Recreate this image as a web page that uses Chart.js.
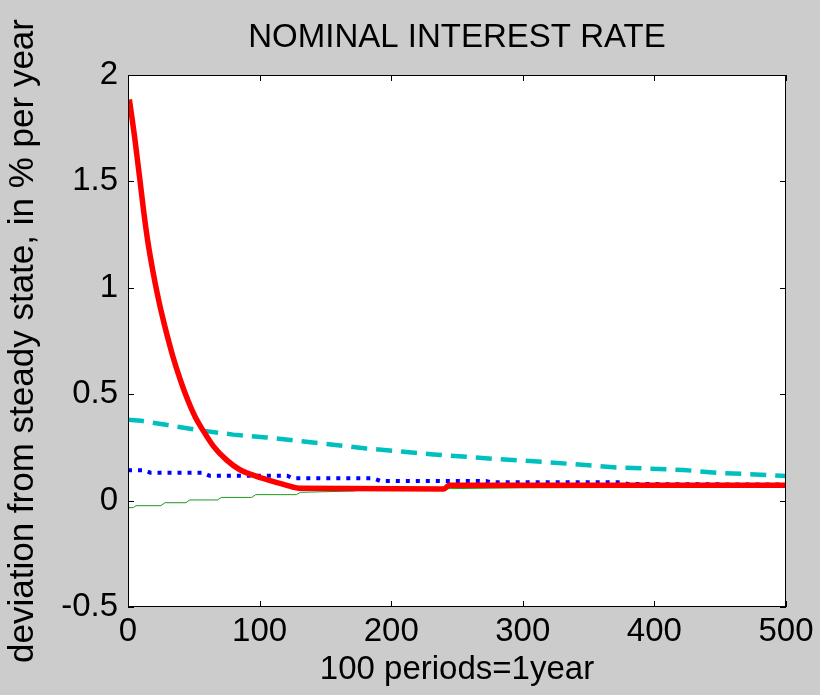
<!DOCTYPE html>
<html>
<head>
<meta charset="utf-8">
<script src="https://cdn.jsdelivr.net/npm/chart.js@4/dist/chart.umd.min.js"></script>
<style>
  html, body { margin: 0; padding: 0; background: #cccccc; }
  #wrap { width: 820px; height: 695px; }
</style>
</head>
<body>
<div id="wrap"><canvas id="grafico" width="820" height="695"></canvas></div>
<script>
// periods (x) and deviation values (y)
const redT   = [1, 3, 5, 7, 9, 12, 15, 19, 22, 25, 30, 34, 37.5, 44, 51, 57, 65, 75, 85, 95, 105, 120, 130, 240, 244, 500];
const redY   = [1.885, 1.80, 1.71, 1.61, 1.51, 1.355, 1.22, 1.075, 0.98, 0.895, 0.77, 0.68, 0.61, 0.495, 0.394, 0.33, 0.255, 0.19, 0.145, 0.12, 0.10, 0.073, 0.058, 0.055, 0.072, 0.072];

const cyanT  = [0, 10, 30, 55, 80, 105, 131, 166, 181, 232, 283, 320, 371, 422, 447, 486, 500];
const cyanY  = [0.38, 0.375, 0.355, 0.33, 0.31, 0.297, 0.28, 0.256, 0.245, 0.217, 0.194, 0.18, 0.156, 0.144, 0.131, 0.12, 0.116];

const blueT  = [0, 12, 17, 57, 62, 121, 125, 186, 192, 272, 276, 375, 380, 500];
const blueY  = [0.143, 0.143, 0.131, 0.131, 0.117, 0.117, 0.105, 0.105, 0.092, 0.092, 0.086, 0.086, 0.078, 0.075];

const greenT = [0, 4, 6, 25, 28, 44, 47, 68, 71, 94, 97, 128, 131, 171, 180, 300, 500];
const greenY = [-0.033, -0.033, -0.024, -0.024, -0.01, -0.01, 0.003, 0.003, 0.015, 0.015, 0.028, 0.028, 0.039, 0.045, 0.052, 0.06, 0.065];

const xTicks = [0, 100, 200, 300, 400, 500];
const yTicks = [-0.5, 0, 0.5, 1, 1.5, 2];
const titulo = 'NOMINAL INTEREST RATE';

const pontos = (t, v) => t.map((x, i) => ({ x, y: v[i] }));

const fonte = '"Liberation Sans", Arial, Helvetica, sans-serif';
Chart.defaults.font.family = fonte;
Chart.defaults.color = '#000';

// white plot area, black box, inward tick marks and title centred on the axes
const moldura = {
    id: 'moldura',
    beforeDraw(chart) {
        const { ctx, chartArea: a } = chart;
        ctx.save();
        ctx.fillStyle = '#ffffff';
        ctx.fillRect(a.left, a.top, a.right - a.left, a.bottom - a.top);
        ctx.restore();
    },
    afterDraw(chart) {
        const { ctx, chartArea: a, scales: { x, y } } = chart;
        ctx.save();
        ctx.strokeStyle = '#000';
        ctx.lineWidth = 1;
        ctx.strokeRect(a.left + 0.5, a.top + 0.5, a.right - a.left - 1, a.bottom - a.top - 1);
        ctx.beginPath();
        xTicks.forEach(v => {
            const px = Math.round(x.getPixelForValue(v)) + 0.5;
            ctx.moveTo(px, a.bottom); ctx.lineTo(px, a.bottom - 6);
            ctx.moveTo(px, a.top); ctx.lineTo(px, a.top + 6);
        });
        yTicks.forEach(v => {
            const py = Math.round(y.getPixelForValue(v)) + 0.5;
            ctx.moveTo(a.left, py); ctx.lineTo(a.left + 6, py);
            ctx.moveTo(a.right, py); ctx.lineTo(a.right - 6, py);
        });
        ctx.stroke();
        ctx.fillStyle = '#000';
        ctx.font = '33px ' + fonte;
        ctx.textAlign = 'center';
        ctx.textBaseline = 'middle';
        ctx.fillText(titulo, (a.left + a.right) / 2, 38);
        ctx.restore();
    }
};

new Chart(document.getElementById('grafico'), {
    type: 'line',
    data: {
        datasets: [
            { data: pontos(redT, redY), borderColor: '#ff0000', borderWidth: 5.5, cubicInterpolationMode: 'monotone', order: 0 },
            { data: pontos(cyanT, cyanY), borderColor: '#00bfbf', borderWidth: 4.5, borderDash: [16, 9], order: 1 },
            { data: pontos(blueT, blueY), borderColor: '#0000ff', borderWidth: 4, borderDash: [4, 6], order: 2 },
            { data: pontos(greenT, greenY), borderColor: '#1e961e', borderWidth: 1, order: 3 }
        ]
    },
    options: {
        responsive: false,
        animation: false,
        elements: { point: { radius: 0 }, line: { tension: 0, borderCapStyle: 'butt' } },
        layout: { padding: { right: 34, left: 0, top: 75, bottom: 0 } },
        plugins: {
            legend: { display: false },
            tooltip: { enabled: false },
            title: { display: false }
        },
        scales: {
            x: {
                type: 'linear', min: 0, max: 500,
                grid: { display: false, drawTicks: false },
                border: { display: false },
                afterBuildTicks: s => { s.ticks = xTicks.map(v => ({ value: v })); },
                ticks: { font: { size: 33 }, padding: 5, maxRotation: 0, callback: v => String(v) },
                title: { display: true, text: '100 periods=1year', font: { size: 33 }, padding: { top: 0, bottom: 5 } },
                afterFit: s => { s.height = 88; }
            },
            y: {
                type: 'linear', min: -0.5, max: 2,
                grid: { display: false, drawTicks: false },
                border: { display: false },
                afterBuildTicks: s => { s.ticks = yTicks.map(v => ({ value: v })); },
                ticks: { font: { size: 33 }, padding: 10, callback: v => String(v) },
                title: { display: true, text: 'deviation from steady state, in % per year', font: { size: 35 }, padding: { top: 2, bottom: 0 } },
                afterFit: s => { s.width = 128; }
            }
        }
    },
    plugins: [moldura]
});
</script>
</body>
</html>
